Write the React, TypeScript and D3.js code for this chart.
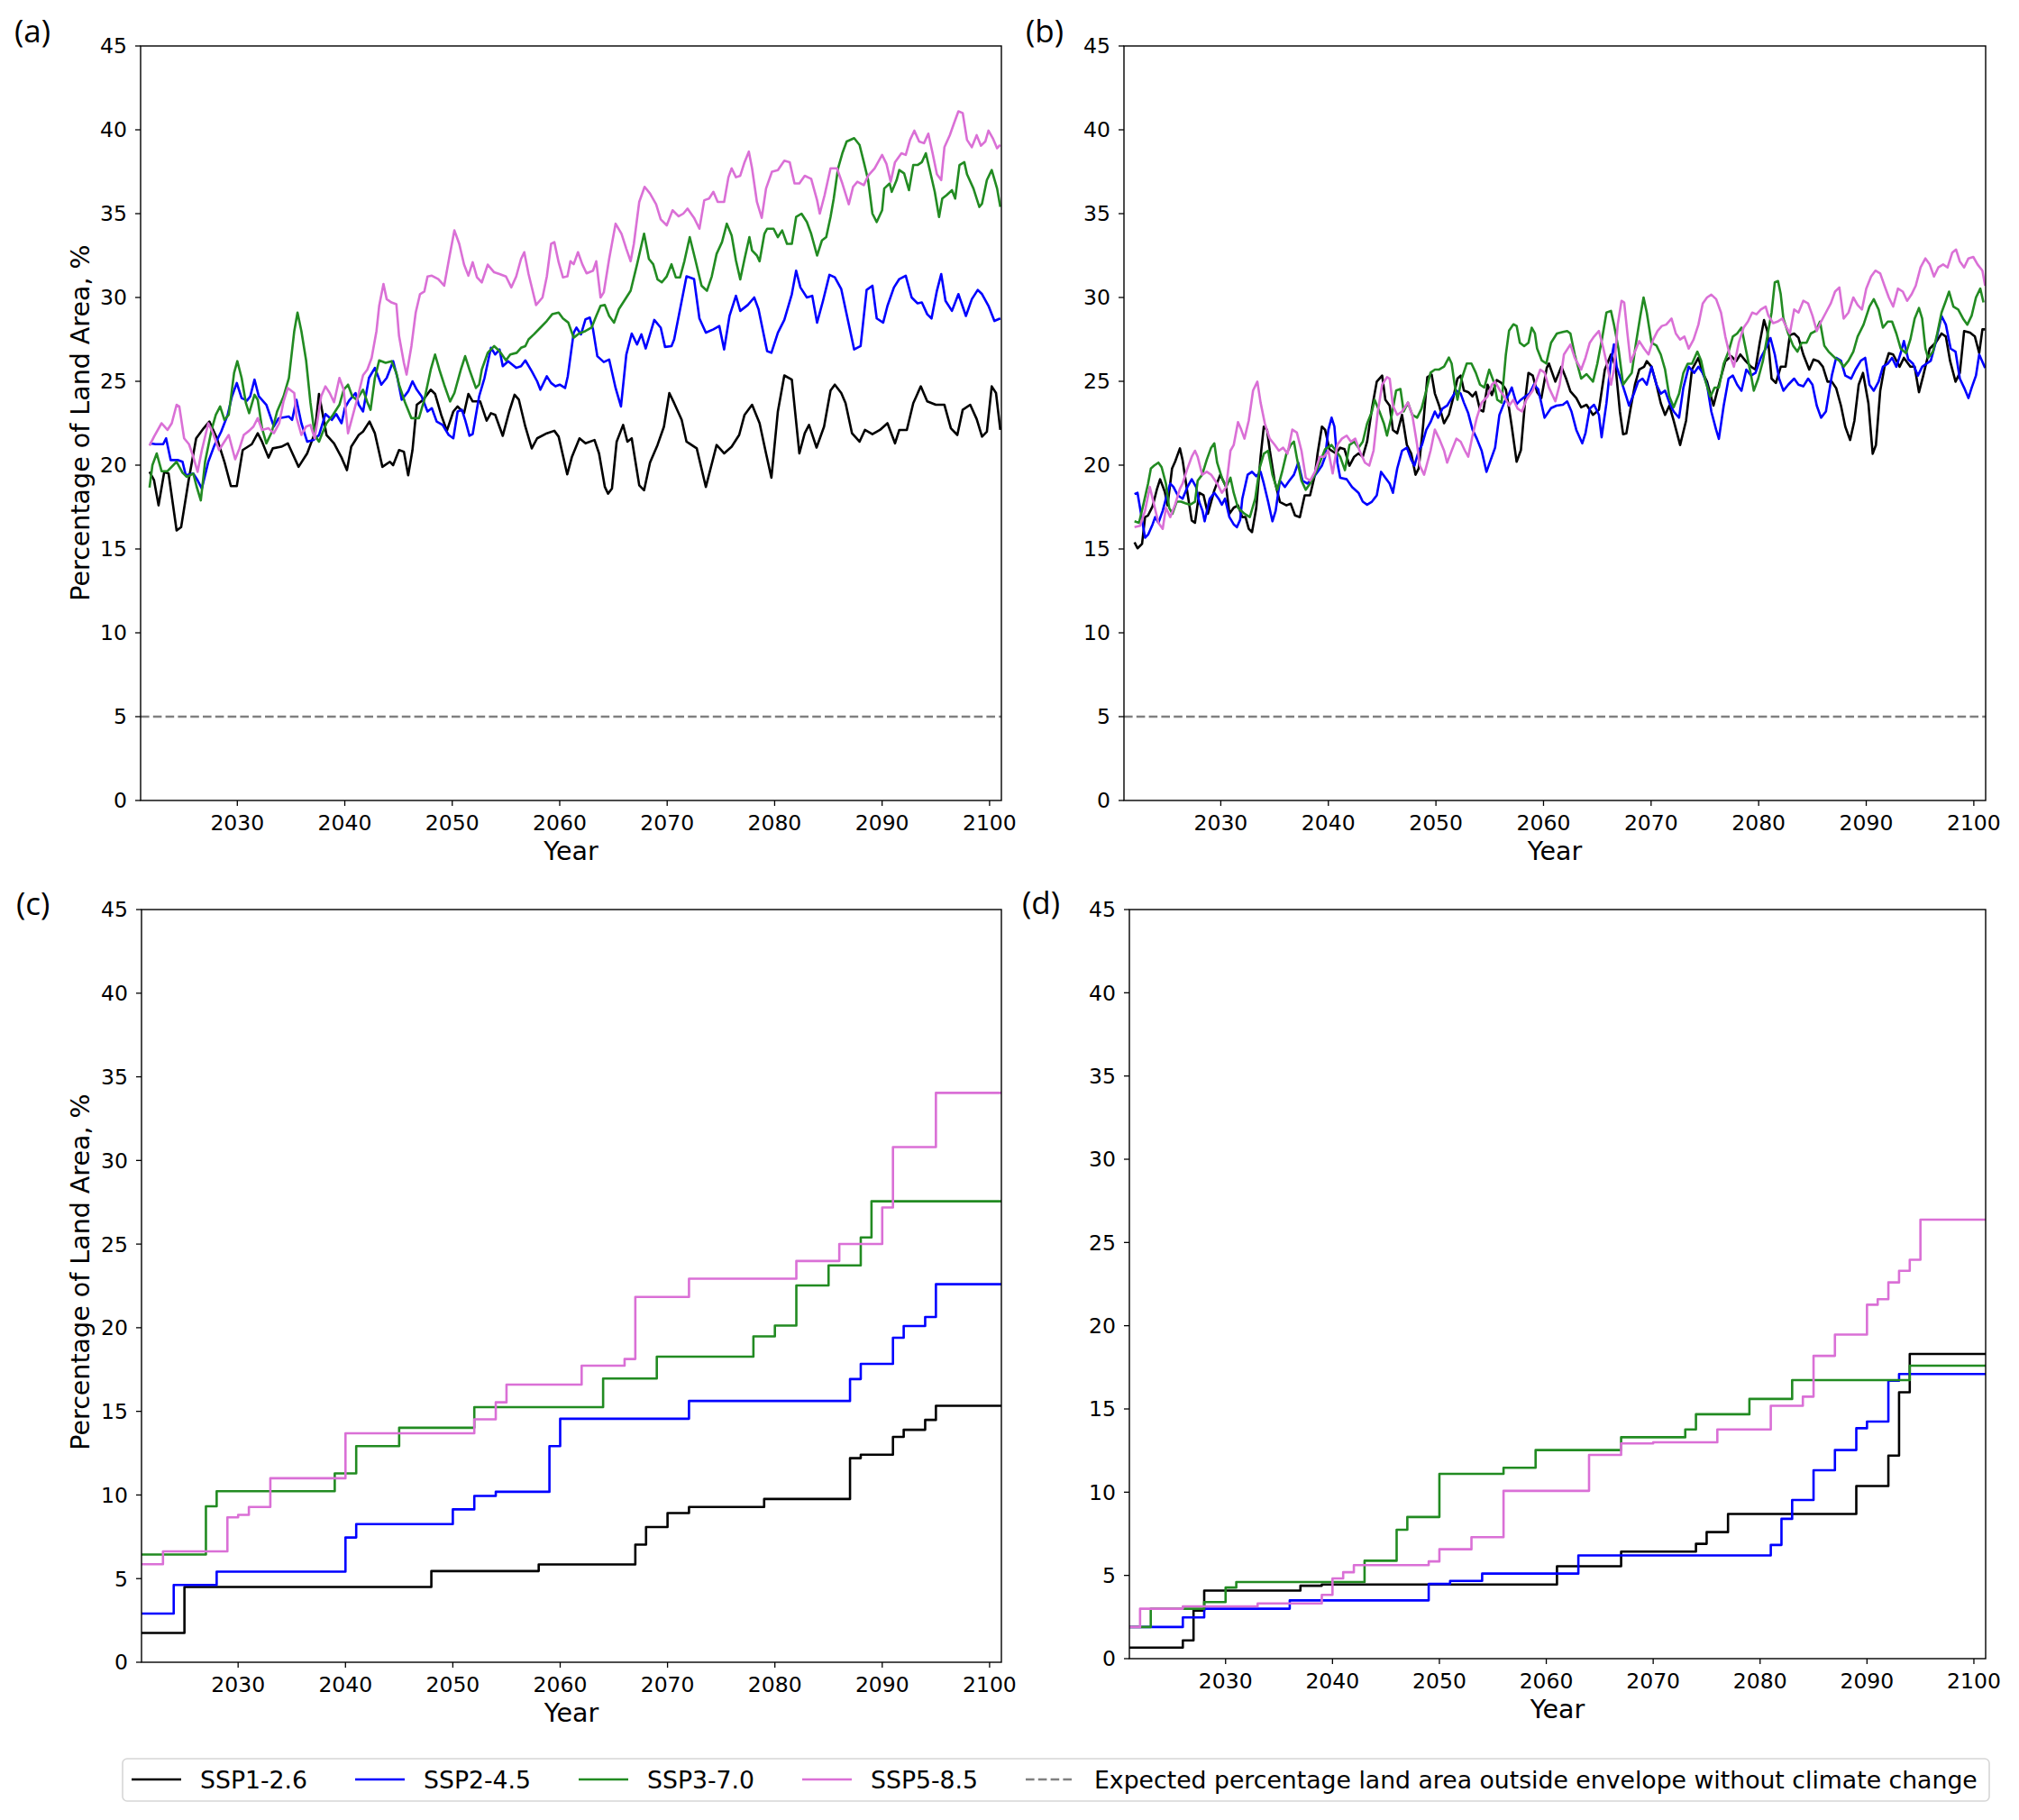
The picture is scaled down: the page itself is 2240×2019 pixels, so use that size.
import * as d3 from 'd3';

type Pt = [number, number];

// shared axis setup
const YEAR_DOMAIN: [number, number] = [2021, 2101.1];
const PCT_DOMAIN: [number, number] = [0, 45];
const YEAR_TICKS = [2030, 2040, 2050, 2060, 2070, 2080, 2090, 2100];
const PCT_TICKS = [0, 5, 10, 15, 20, 25, 30, 35, 40, 45];
const SCENARIOS = ['SSP1-2.6', 'SSP2-4.5', 'SSP3-7.0', 'SSP5-8.5'];
const COLORS = ['#000000', '#0000ff', '#228b22', '#da70d6'];
const BASELINE_PCT = 5;
const BASELINE_LABEL = 'Expected percentage land area outside envelope without climate change';

// (a) running values
const A_SSP126: Pt[] = [
  [2021.83, 19.6], [2022.25, 19.1], [2022.67, 17.6], [2023.2, 19.6], [2023.6, 19.5], [2024.35, 16.1],
  [2024.77, 16.3], [2025.47, 19.1], [2026.17, 21.6], [2026.87, 22.2], [2027.4, 22.6], [2028.1, 21.6],
  [2028.8, 20.2], [2029.4, 18.75], [2029.95, 18.75], [2030.5, 20.9], [2031.35, 21.25], [2031.9, 21.9],
  [2032.3, 21.4], [2032.9, 20.45], [2033.3, 21.0], [2034.1, 21.1], [2034.7, 21.3], [2035.7, 19.9],
  [2036.5, 20.7], [2037.2, 21.9], [2037.6, 24.25], [2037.9, 23.2], [2038.3, 21.8], [2039.0, 21.3],
  [2039.7, 20.45], [2040.2, 19.7], [2040.6, 21.1], [2041.3, 21.8], [2041.7, 22.0], [2042.3, 22.6],
  [2042.8, 21.9], [2043.5, 19.9], [2044.2, 20.2], [2044.5, 20.0], [2045.05, 20.9], [2045.5, 20.8],
  [2045.9, 19.4], [2046.3, 20.9], [2046.7, 23.6], [2047.3, 23.9], [2048.0, 24.5], [2048.4, 24.25],
  [2048.97, 23.0], [2049.5, 22.05], [2050.1, 23.2], [2050.5, 23.5], [2051.1, 23.1], [2051.5, 24.25],
  [2051.9, 23.8], [2052.6, 23.8], [2053.2, 22.65], [2053.6, 23.1], [2054.0, 23.0], [2054.7, 21.75],
  [2055.3, 23.2], [2055.8, 24.2], [2056.2, 23.9], [2056.8, 22.3], [2057.4, 21.0], [2057.9, 21.6],
  [2058.8, 21.9], [2059.5, 22.05], [2059.9, 21.7], [2060.7, 19.45], [2061.14, 20.5], [2061.84, 21.6],
  [2062.4, 21.3], [2063.24, 21.5], [2063.66, 20.7], [2064.2, 18.7], [2064.5, 18.3], [2064.86, 18.6],
  [2065.3, 21.4], [2065.9, 22.4], [2066.3, 21.4], [2066.7, 21.6], [2067.4, 18.8], [2067.85, 18.5],
  [2068.4, 20.15], [2069.1, 21.2], [2069.7, 22.3], [2070.2, 24.3], [2070.65, 23.7], [2071.35, 22.7],
  [2071.8, 21.4], [2072.75, 21.0], [2073.6, 18.7], [2074.6, 21.2], [2075.3, 20.7], [2076.0, 21.1],
  [2076.7, 21.8], [2077.2, 23.0], [2077.9, 23.6], [2078.6, 22.5], [2079.2, 20.7], [2079.7, 19.25],
  [2080.3, 23.2], [2080.9, 25.35], [2081.6, 25.1], [2082.3, 20.7], [2082.8, 21.9], [2083.2, 22.4],
  [2083.9, 21.05], [2084.6, 22.3], [2085.2, 24.45], [2085.6, 24.8], [2086.2, 24.3], [2086.6, 23.7],
  [2087.2, 21.9], [2087.9, 21.4], [2088.4, 22.1], [2089.1, 21.85], [2089.8, 22.1], [2090.5, 22.5],
  [2091.2, 21.3], [2091.6, 22.1], [2092.3, 22.1], [2092.9, 23.7], [2093.6, 24.7], [2094.2, 23.8],
  [2095.0, 23.6], [2095.8, 23.6], [2096.4, 22.2], [2097.0, 21.8], [2097.5, 23.3], [2098.2, 23.6],
  [2098.8, 22.75], [2099.3, 21.7], [2099.75, 22.0], [2100.2, 24.7], [2100.6, 24.3], [2101.0, 22.1],
];

const A_SSP245: Pt[] = [
  [2021.83, 21.3], [2022.4, 21.25], [2023.1, 21.25], [2023.37, 21.6], [2023.8, 20.3], [2024.5, 20.3],
  [2024.9, 20.2], [2025.2, 19.4], [2025.9, 19.5], [2026.3, 19.1], [2026.7, 18.6], [2027.3, 20.2],
  [2027.85, 21.15], [2028.5, 22.0], [2029.1, 23.0], [2029.5, 24.1], [2029.95, 24.9], [2030.4, 24.0],
  [2030.9, 23.85], [2031.2, 24.1], [2031.6, 25.1], [2032.0, 24.1], [2032.7, 23.6], [2033.4, 22.3],
  [2033.85, 22.8], [2034.8, 22.9], [2035.1, 22.7], [2035.5, 23.9], [2035.96, 22.5], [2036.5, 21.4],
  [2037.1, 21.5], [2037.6, 21.8], [2038.2, 23.05], [2038.8, 22.7], [2039.2, 23.05], [2039.7, 22.5],
  [2040.0, 23.4], [2040.4, 23.85], [2041.0, 24.3], [2041.3, 23.6], [2041.7, 23.2], [2042.25, 25.2],
  [2042.8, 25.8], [2043.4, 24.8], [2043.9, 25.2], [2044.5, 26.2], [2044.9, 25.2], [2045.3, 23.9],
  [2045.9, 24.4], [2046.3, 25.0], [2046.7, 24.5], [2047.15, 24.1], [2047.7, 23.2], [2048.1, 23.4],
  [2048.55, 22.6], [2049.1, 22.4], [2049.67, 21.8], [2050.1, 21.6], [2050.5, 23.2], [2050.9, 23.3],
  [2051.2, 22.7], [2051.6, 21.75], [2051.9, 21.85], [2052.5, 24.1], [2053.0, 25.2], [2053.6, 27.0],
  [2054.0, 26.6], [2054.4, 26.9], [2054.7, 25.9], [2055.2, 26.2], [2055.95, 25.8], [2056.4, 25.9],
  [2056.8, 26.25], [2057.4, 25.6], [2057.9, 25.0], [2058.2, 24.5], [2058.8, 25.3], [2059.2, 24.9],
  [2059.6, 24.7], [2060.0, 24.8], [2060.5, 24.6], [2060.75, 25.3], [2061.3, 27.9], [2061.56, 28.2],
  [2061.98, 27.8], [2062.4, 28.7], [2062.8, 28.8], [2063.1, 28.1], [2063.5, 26.5], [2064.1, 26.15],
  [2064.6, 26.3], [2065.2, 24.6], [2065.7, 23.5], [2066.2, 26.6], [2066.7, 27.85], [2067.2, 27.2],
  [2067.6, 27.8], [2068.0, 26.96], [2068.4, 27.8], [2068.8, 28.66], [2069.4, 28.2], [2069.8, 27.05],
  [2070.4, 27.1], [2070.65, 27.5], [2071.2, 29.3], [2071.8, 31.26], [2072.5, 31.1], [2073.0, 28.75],
  [2073.6, 27.9], [2074.3, 28.1], [2074.85, 28.3], [2075.3, 26.9], [2075.8, 28.9], [2076.4, 30.1],
  [2076.8, 29.2], [2077.5, 29.55], [2078.1, 30.0], [2078.5, 29.3], [2079.3, 26.8], [2079.7, 26.7],
  [2080.3, 27.9], [2080.9, 28.66], [2081.6, 30.2], [2082.0, 31.6], [2082.4, 30.6], [2083.0, 30.0],
  [2083.5, 30.1], [2083.95, 28.5], [2084.5, 29.8], [2085.1, 31.35], [2085.6, 31.2], [2086.2, 30.5],
  [2086.9, 28.4], [2087.4, 26.9], [2088.0, 27.1], [2088.56, 30.45], [2089.1, 30.7], [2089.5, 28.75],
  [2090.1, 28.5], [2090.5, 29.5], [2091.1, 30.6], [2091.6, 31.1], [2092.2, 31.3], [2092.75, 30.0],
  [2093.3, 29.65], [2093.7, 29.7], [2094.2, 29.0], [2094.6, 28.75], [2095.1, 30.4], [2095.5, 31.4],
  [2095.9, 29.8], [2096.5, 29.2], [2097.1, 30.2], [2097.8, 28.9], [2098.35, 29.9], [2098.9, 30.45],
  [2099.3, 30.2], [2099.9, 29.5], [2100.45, 28.6], [2101.0, 28.75],
];

const A_SSP370: Pt[] = [
  [2021.83, 18.66], [2022.1, 20.0], [2022.5, 20.7], [2022.95, 19.64], [2023.5, 19.64], [2024.35, 20.2],
  [2024.9, 19.55], [2025.3, 19.3], [2025.9, 19.5], [2026.2, 18.75], [2026.6, 17.9], [2027.0, 20.2],
  [2027.6, 22.1], [2028.0, 23.0], [2028.4, 23.5], [2028.8, 22.7], [2029.2, 23.0], [2029.7, 25.5],
  [2030.0, 26.2], [2030.4, 25.2], [2030.8, 23.7], [2031.1, 23.1], [2031.6, 24.2], [2031.9, 23.9],
  [2032.3, 22.2], [2032.7, 21.3], [2033.2, 21.96], [2033.7, 23.2], [2034.3, 24.1], [2034.8, 25.2],
  [2035.3, 28.0], [2035.6, 29.1], [2035.96, 28.0], [2036.4, 26.25], [2036.8, 23.75], [2037.2, 21.8],
  [2037.6, 21.4], [2037.9, 21.9], [2038.3, 22.5], [2038.9, 23.0], [2039.5, 23.6], [2039.9, 24.5],
  [2040.3, 24.8], [2040.7, 24.1], [2041.1, 23.9], [2041.7, 24.5], [2042.1, 23.75], [2042.4, 23.3],
  [2042.8, 25.2], [2043.2, 26.25], [2043.8, 26.1], [2044.35, 26.2], [2044.8, 25.5], [2045.05, 24.8],
  [2045.6, 23.75], [2046.2, 22.8], [2046.9, 22.8], [2047.4, 23.9], [2048.0, 25.7], [2048.4, 26.6],
  [2048.8, 25.7], [2049.25, 24.8], [2049.8, 23.8], [2050.2, 24.3], [2050.8, 25.7], [2051.2, 26.5],
  [2051.6, 25.7], [2052.2, 24.6], [2052.5, 24.8], [2052.75, 25.7], [2053.3, 26.7], [2053.9, 27.1],
  [2054.4, 26.8], [2055.0, 26.25], [2055.4, 26.6], [2056.0, 26.7], [2056.4, 27.0], [2056.8, 27.1],
  [2057.1, 27.5], [2057.6, 27.8], [2058.2, 28.2], [2058.8, 28.6], [2059.3, 29.0], [2059.9, 29.1],
  [2060.3, 28.75], [2060.8, 28.5], [2061.3, 27.6], [2061.8, 27.85], [2062.4, 28.0], [2062.96, 28.2],
  [2063.4, 28.9], [2063.8, 29.5], [2064.2, 29.55], [2064.6, 28.9], [2065.06, 28.5], [2065.5, 29.3],
  [2066.0, 29.8], [2066.6, 30.4], [2067.2, 31.98], [2067.85, 33.8], [2068.3, 32.3], [2068.7, 31.98],
  [2069.1, 31.08], [2069.5, 30.9], [2069.96, 31.26], [2070.4, 31.98], [2070.8, 31.2], [2071.2, 31.2],
  [2071.6, 32.16], [2072.1, 33.6], [2072.6, 32.3], [2073.2, 30.7], [2073.7, 30.4], [2074.15, 31.26],
  [2074.6, 32.6], [2075.1, 33.3], [2075.55, 34.4], [2076.0, 33.7], [2076.4, 32.2], [2076.8, 31.08],
  [2077.2, 32.3], [2077.65, 33.6], [2077.9, 32.8], [2078.35, 32.5], [2078.6, 32.16], [2079.05, 33.8],
  [2079.3, 34.1], [2079.9, 34.1], [2080.3, 33.6], [2080.7, 34.0], [2081.15, 33.2], [2081.6, 33.2],
  [2082.0, 34.8], [2082.5, 35.0], [2083.0, 34.5], [2083.4, 33.8], [2083.95, 32.5], [2084.4, 33.4],
  [2084.8, 33.6], [2085.2, 34.8], [2085.5, 35.9], [2085.9, 37.7], [2086.3, 38.6], [2086.7, 39.3],
  [2087.4, 39.5], [2087.9, 39.1], [2088.3, 38.07], [2088.7, 37.0], [2089.1, 35.0], [2089.5, 34.5],
  [2090.0, 35.2], [2090.2, 36.5], [2090.7, 36.8], [2090.9, 36.3], [2091.35, 37.0], [2091.6, 37.6],
  [2092.05, 37.4], [2092.5, 36.4], [2092.9, 37.9], [2093.3, 37.9], [2093.7, 38.07], [2094.07, 38.6],
  [2094.4, 37.7], [2094.9, 36.3], [2095.3, 34.8], [2095.6, 35.9], [2096.0, 36.1], [2096.5, 36.4],
  [2096.8, 35.9], [2097.2, 37.9], [2097.65, 38.07], [2097.9, 37.35], [2098.5, 36.5], [2099.05, 35.4],
  [2099.3, 35.6], [2099.75, 37.0], [2100.2, 37.6], [2100.7, 36.5], [2101.0, 35.4],
];

const A_SSP585: Pt[] = [
  [2021.83, 21.16], [2022.25, 21.7], [2022.95, 22.5], [2023.5, 22.1], [2023.9, 22.5], [2024.35, 23.6],
  [2024.6, 23.5], [2025.05, 21.6], [2025.5, 21.25], [2025.9, 20.5], [2026.3, 19.6], [2026.7, 20.9],
  [2027.3, 22.5], [2027.7, 21.96], [2028.3, 20.9], [2028.7, 21.3], [2029.2, 21.8], [2029.8, 20.35],
  [2030.2, 21.0], [2030.6, 21.8], [2031.1, 22.05], [2031.5, 22.3], [2031.9, 22.8], [2032.3, 22.1],
  [2032.9, 22.2], [2033.4, 21.9], [2033.9, 22.5], [2034.3, 23.8], [2034.7, 24.6], [2035.3, 24.3],
  [2035.5, 22.86], [2035.96, 21.8], [2036.4, 22.3], [2036.8, 22.4], [2037.2, 21.6], [2037.8, 24.1],
  [2038.2, 24.7], [2038.6, 24.3], [2039.0, 23.75], [2039.5, 25.2], [2039.9, 24.5], [2040.3, 21.9],
  [2040.7, 22.86], [2041.3, 24.3], [2041.7, 25.36], [2042.1, 25.7], [2042.5, 26.4], [2042.95, 28.0],
  [2043.2, 29.5], [2043.6, 30.8], [2043.9, 29.9], [2044.35, 29.7], [2044.8, 29.6], [2045.05, 27.7],
  [2045.5, 26.1], [2045.75, 25.4], [2046.2, 27.1], [2046.6, 29.1], [2047.0, 30.2], [2047.4, 30.35],
  [2047.7, 31.25], [2048.1, 31.3], [2048.7, 31.1], [2049.25, 30.7], [2049.7, 32.3], [2050.2, 34.0],
  [2050.65, 33.2], [2051.1, 31.96], [2051.5, 31.3], [2051.9, 32.1], [2052.3, 31.2], [2052.75, 30.9],
  [2053.3, 31.96], [2053.9, 31.5], [2054.4, 31.4], [2055.0, 31.25], [2055.5, 30.6], [2055.95, 31.25],
  [2056.4, 32.3], [2056.7, 32.7], [2057.1, 31.4], [2057.5, 30.35], [2057.8, 29.55], [2058.4, 30.0],
  [2058.8, 31.25], [2059.2, 33.2], [2059.5, 33.3], [2059.9, 32.1], [2060.3, 31.2], [2060.72, 31.26],
  [2061.0, 32.16], [2061.3, 31.98], [2061.7, 32.7], [2062.1, 31.98], [2062.5, 31.44], [2063.1, 31.6],
  [2063.4, 32.16], [2063.8, 30.0], [2064.1, 30.3], [2064.6, 32.3], [2065.2, 34.4], [2065.75, 33.8],
  [2066.2, 32.9], [2066.6, 32.16], [2066.9, 33.2], [2067.4, 35.7], [2067.9, 36.6], [2068.4, 36.2],
  [2068.97, 35.56], [2069.4, 34.66], [2069.96, 34.3], [2070.5, 35.2], [2071.07, 34.84], [2071.5, 35.0],
  [2071.9, 35.3], [2072.5, 34.75], [2073.0, 34.1], [2073.45, 35.8], [2073.9, 35.9], [2074.3, 36.3],
  [2074.7, 35.7], [2075.3, 35.7], [2075.7, 37.17], [2076.0, 37.7], [2076.4, 37.17], [2076.8, 37.26],
  [2077.2, 38.07], [2077.6, 38.7], [2077.9, 37.7], [2078.35, 35.7], [2078.8, 34.75], [2079.2, 36.5],
  [2079.75, 37.5], [2080.3, 37.6], [2080.9, 38.16], [2081.4, 38.07], [2081.85, 36.8], [2082.3, 36.8],
  [2082.8, 37.26], [2083.4, 37.08], [2083.95, 35.8], [2084.2, 35.0], [2084.65, 36.1], [2085.2, 37.7],
  [2085.8, 37.7], [2086.3, 36.8], [2086.9, 35.56], [2087.3, 36.6], [2087.7, 36.9], [2088.3, 36.7],
  [2088.7, 37.26], [2089.3, 37.7], [2090.0, 38.5], [2090.4, 37.98], [2090.8, 36.9], [2091.2, 38.07],
  [2091.8, 38.6], [2092.2, 38.5], [2092.6, 39.4], [2093.0, 39.95], [2093.45, 39.3], [2093.9, 39.2],
  [2094.3, 39.77], [2094.7, 38.6], [2095.1, 37.35], [2095.5, 37.0], [2095.8, 38.96], [2096.3, 39.68],
  [2096.7, 40.4], [2097.1, 41.1], [2097.5, 41.0], [2097.9, 39.4], [2098.35, 38.96], [2098.8, 39.68],
  [2099.2, 39.05], [2099.6, 39.3], [2099.9, 39.95], [2100.3, 39.5], [2100.7, 38.9], [2101.0, 39.1],
];

// (b) running values
const B_SSP126: Pt[] = [
  [2021.98, 15.4], [2022.26, 15.04], [2022.68, 15.3], [2022.96, 16.9], [2023.24, 17.0], [2023.66, 17.55],
  [2024.08, 18.6], [2024.36, 19.16], [2024.8, 18.4], [2025.05, 17.6], [2025.47, 19.8], [2025.75, 20.2],
  [2026.2, 21.0], [2026.45, 20.3], [2026.9, 18.35], [2027.3, 16.7], [2027.6, 16.56], [2028.0, 18.35],
  [2028.4, 18.2], [2028.8, 17.1], [2029.4, 18.5], [2029.95, 19.43], [2030.5, 18.7], [2030.8, 17.1],
  [2031.2, 17.46], [2031.6, 17.6], [2032.0, 16.9], [2032.3, 16.9], [2032.6, 16.2], [2032.9, 16.0],
  [2033.3, 17.46], [2033.7, 20.5], [2034.0, 22.3], [2034.3, 22.1], [2034.55, 20.9], [2035.0, 19.07],
  [2035.5, 17.8], [2036.1, 17.6], [2036.5, 17.7], [2036.9, 17.0], [2037.35, 16.9], [2037.8, 18.2],
  [2038.3, 18.2], [2038.75, 19.43], [2039.0, 20.7], [2039.4, 22.3], [2039.7, 22.1], [2040.1, 20.95],
  [2040.7, 20.7], [2041.1, 21.04], [2041.5, 20.95], [2041.96, 19.97], [2042.4, 20.5], [2042.8, 20.7],
  [2043.2, 20.5], [2043.6, 21.4], [2044.05, 23.37], [2044.5, 24.98], [2045.0, 25.34], [2045.3, 23.9],
  [2045.7, 23.55], [2046.0, 22.1], [2046.4, 21.9], [2046.85, 23.0], [2047.3, 21.2], [2047.7, 20.7],
  [2048.1, 19.43], [2048.4, 19.8], [2048.8, 22.3], [2049.2, 25.25], [2049.6, 25.4], [2049.9, 24.27],
  [2050.3, 23.55], [2050.75, 22.5], [2051.2, 23.0], [2051.6, 24.0], [2052.0, 25.16], [2052.3, 25.34],
  [2052.6, 24.45], [2053.0, 24.36], [2053.4, 24.1], [2053.7, 24.36], [2054.1, 23.3], [2054.4, 23.2],
  [2054.8, 24.8], [2055.2, 24.18], [2055.65, 25.07], [2056.1, 24.9], [2056.5, 24.5], [2056.8, 23.37],
  [2057.05, 22.3], [2057.5, 20.2], [2057.9, 20.9], [2058.3, 23.9], [2058.6, 25.5], [2059.0, 25.34],
  [2059.4, 24.36], [2059.8, 24.0], [2060.3, 25.8], [2060.5, 26.06], [2061.1, 24.98], [2061.66, 25.87],
  [2062.1, 25.16], [2062.5, 24.4], [2063.05, 24.0], [2063.5, 23.45], [2064.0, 23.6], [2064.6, 23.0],
  [2065.15, 23.3], [2065.7, 25.7], [2066.27, 26.6], [2066.7, 25.87], [2067.1, 23.2], [2067.4, 21.84],
  [2067.7, 21.9], [2068.1, 23.4], [2068.5, 24.8], [2068.9, 25.7], [2069.35, 25.87], [2069.6, 26.2],
  [2070.04, 25.87], [2070.5, 24.8], [2070.9, 23.7], [2071.3, 23.0], [2071.7, 23.55], [2072.1, 22.65],
  [2072.7, 21.2], [2073.25, 22.65], [2073.8, 25.7], [2074.4, 26.4], [2074.8, 25.5], [2075.2, 24.98],
  [2075.8, 23.55], [2076.3, 24.8], [2076.9, 26.2], [2077.45, 26.5], [2077.9, 26.2], [2078.3, 26.6],
  [2078.8, 26.2], [2079.3, 25.87], [2079.7, 25.7], [2080.1, 27.3], [2080.5, 28.65], [2080.8, 28.0],
  [2081.2, 25.16], [2081.6, 24.9], [2082.05, 25.87], [2082.5, 25.87], [2082.9, 27.76], [2083.3, 27.85],
  [2083.7, 27.6], [2084.15, 26.6], [2084.7, 25.7], [2085.1, 26.3], [2085.55, 26.2], [2085.97, 25.87],
  [2086.4, 24.98], [2086.8, 24.98], [2087.2, 24.6], [2087.65, 23.55], [2088.05, 22.3], [2088.5, 21.5],
  [2088.9, 22.65], [2089.3, 24.8], [2089.7, 25.5], [2090.2, 23.7], [2090.6, 20.68], [2090.9, 21.2],
  [2091.3, 24.44], [2091.7, 25.87], [2092.1, 26.68], [2092.5, 26.6], [2093.1, 25.87], [2093.5, 26.4],
  [2094.1, 25.87], [2094.5, 25.87], [2094.9, 24.35], [2095.3, 25.34], [2095.9, 26.95], [2096.45, 27.3],
  [2097.0, 27.85], [2097.4, 27.67], [2097.8, 26.2], [2098.3, 24.98], [2098.7, 25.5], [2099.1, 28.0],
  [2099.65, 27.9], [2100.1, 27.67], [2100.5, 26.68], [2100.8, 28.1], [2101.05, 28.1],
];

const B_SSP245: Pt[] = [
  [2021.98, 18.27], [2022.26, 18.35], [2022.68, 16.74], [2022.96, 15.67], [2023.24, 15.85], [2023.66, 16.47],
  [2023.9, 16.9], [2024.2, 16.56], [2024.6, 17.28], [2025.05, 18.35], [2025.3, 18.9], [2025.6, 18.7],
  [2026.0, 18.2], [2026.45, 18.0], [2026.9, 18.7], [2027.3, 19.16], [2027.7, 18.7], [2028.0, 17.8],
  [2028.3, 17.28], [2028.5, 16.65], [2028.97, 18.0], [2029.4, 18.35], [2029.8, 18.0], [2030.1, 17.64],
  [2030.4, 18.0], [2030.8, 16.9], [2031.2, 16.47], [2031.5, 16.3], [2031.8, 16.74], [2032.0, 18.0],
  [2032.5, 19.43], [2032.9, 19.6], [2033.3, 19.34], [2033.7, 19.6], [2034.0, 18.9], [2034.4, 17.82],
  [2034.8, 16.65], [2035.1, 17.28], [2035.5, 19.07], [2035.96, 18.7], [2036.37, 19.07], [2036.8, 19.43],
  [2037.2, 20.15], [2037.6, 19.07], [2038.05, 18.9], [2038.6, 19.25], [2039.0, 19.6], [2039.4, 19.97],
  [2039.7, 20.5], [2040.0, 22.1], [2040.3, 22.83], [2040.56, 22.3], [2040.84, 20.15], [2041.1, 19.25],
  [2041.7, 19.16], [2042.2, 18.7], [2042.8, 18.35], [2043.2, 17.82], [2043.6, 17.64], [2044.05, 17.82],
  [2044.5, 18.2], [2044.9, 19.6], [2045.3, 19.25], [2045.7, 18.9], [2046.0, 18.35], [2046.4, 19.8],
  [2046.85, 20.86], [2047.3, 21.04], [2047.7, 20.33], [2048.0, 19.97], [2048.4, 20.86], [2048.7, 21.2],
  [2049.1, 22.1], [2049.5, 22.57], [2049.9, 23.2], [2050.2, 22.83], [2050.6, 23.37], [2051.04, 23.55],
  [2051.46, 24.0], [2051.9, 24.45], [2052.3, 24.27], [2052.6, 23.73], [2053.0, 23.1], [2053.4, 22.12],
  [2053.8, 21.58], [2054.25, 20.86], [2054.7, 19.6], [2055.1, 20.33], [2055.5, 21.04], [2055.9, 23.0],
  [2056.35, 23.73], [2056.8, 24.27], [2057.05, 24.63], [2057.5, 23.64], [2057.9, 23.9], [2058.3, 24.1],
  [2058.7, 24.27], [2059.1, 24.8], [2059.5, 24.54], [2060.1, 22.83], [2060.7, 23.4], [2061.2, 23.55],
  [2061.8, 23.6], [2062.2, 23.8], [2062.6, 23.2], [2063.05, 22.1], [2063.6, 21.3], [2063.9, 21.9],
  [2064.3, 23.37], [2064.7, 23.6], [2065.15, 23.0], [2065.4, 21.66], [2065.85, 23.7], [2066.27, 26.23],
  [2066.55, 27.2], [2066.8, 25.87], [2067.25, 24.98], [2067.7, 24.08], [2067.95, 23.55], [2068.4, 24.26],
  [2068.8, 24.98], [2069.2, 25.16], [2069.6, 24.8], [2070.04, 25.87], [2070.5, 24.8], [2070.9, 24.26],
  [2071.3, 24.44], [2071.7, 23.73], [2072.1, 23.2], [2072.6, 22.83], [2073.0, 24.62], [2073.5, 25.87],
  [2074.0, 25.5], [2074.4, 25.87], [2074.8, 25.5], [2075.2, 24.8], [2075.6, 23.2], [2076.05, 22.1],
  [2076.3, 21.57], [2076.75, 23.55], [2077.2, 25.16], [2077.6, 25.34], [2078.0, 24.8], [2078.4, 24.44],
  [2078.85, 25.7], [2079.3, 25.34], [2079.7, 25.5], [2080.2, 26.4], [2080.65, 26.95], [2081.1, 27.58],
  [2081.5, 26.6], [2081.9, 25.16], [2082.3, 24.44], [2082.75, 24.8], [2083.3, 25.16], [2083.7, 24.8],
  [2084.15, 24.7], [2084.6, 25.16], [2085.0, 24.8], [2085.4, 23.55], [2085.8, 22.83], [2086.25, 23.2],
  [2086.8, 25.34], [2087.2, 26.4], [2087.65, 26.23], [2088.05, 25.34], [2088.6, 25.16], [2089.0, 25.7],
  [2089.5, 26.23], [2089.9, 26.4], [2090.3, 24.8], [2090.7, 24.44], [2091.15, 24.98], [2091.55, 25.87],
  [2092.0, 26.05], [2092.4, 26.4], [2092.8, 25.87], [2093.2, 26.68], [2093.5, 27.4], [2093.9, 26.32],
  [2094.35, 26.05], [2094.8, 25.34], [2095.2, 25.87], [2095.6, 26.05], [2096.0, 26.23], [2096.45, 27.3],
  [2097.0, 28.9], [2097.4, 28.38], [2097.85, 26.95], [2098.3, 26.77], [2098.7, 25.16], [2099.1, 24.62],
  [2099.5, 24.0], [2099.8, 24.62], [2100.2, 25.34], [2100.5, 26.6], [2101.05, 25.8],
];

const B_SSP370: Pt[] = [
  [2021.98, 16.65], [2022.4, 16.56], [2022.8, 17.64], [2023.24, 18.9], [2023.5, 19.8], [2023.8, 19.97],
  [2024.2, 20.15], [2024.5, 19.88], [2024.9, 18.9], [2025.2, 17.46], [2025.5, 17.1], [2025.9, 17.82],
  [2026.3, 17.82], [2026.7, 17.73], [2027.15, 17.64], [2027.6, 17.82], [2027.85, 19.07], [2028.27, 19.43],
  [2028.7, 20.33], [2029.1, 21.04], [2029.4, 21.3], [2029.66, 20.15], [2030.1, 19.25], [2030.5, 18.7],
  [2030.9, 19.25], [2031.2, 18.35], [2031.6, 17.46], [2032.2, 17.1], [2032.7, 16.9], [2033.2, 18.0],
  [2033.6, 19.8], [2034.0, 20.68], [2034.4, 20.86], [2034.8, 19.43], [2035.25, 18.53], [2035.7, 19.6],
  [2036.1, 20.68], [2036.5, 21.2], [2036.8, 21.4], [2037.1, 20.33], [2037.5, 19.07], [2037.9, 18.53],
  [2038.3, 18.9], [2038.75, 19.43], [2039.2, 20.15], [2039.7, 20.95], [2040.3, 21.2], [2040.7, 20.86],
  [2041.1, 20.5], [2041.54, 19.7], [2041.96, 21.2], [2042.4, 21.4], [2042.8, 21.04], [2043.2, 21.4],
  [2043.6, 22.47], [2044.05, 23.2], [2044.3, 23.9], [2044.75, 23.2], [2045.17, 22.47], [2045.45, 21.76],
  [2045.9, 23.0], [2046.3, 24.45], [2046.7, 24.54], [2047.0, 23.2], [2047.4, 23.73], [2047.8, 23.0],
  [2048.25, 22.83], [2048.66, 23.37], [2049.1, 24.45], [2049.5, 25.52], [2049.9, 25.7], [2050.3, 25.7],
  [2050.76, 25.88], [2051.2, 26.42], [2051.46, 26.06], [2051.74, 24.8], [2052.0, 23.9], [2052.4, 25.16],
  [2052.86, 26.06], [2053.3, 26.06], [2053.7, 25.52], [2054.1, 24.8], [2054.5, 24.63], [2054.95, 25.7],
  [2055.37, 24.98], [2055.7, 23.9], [2056.1, 23.73], [2056.5, 26.6], [2056.8, 28.03], [2057.2, 28.4],
  [2057.5, 28.3], [2057.8, 27.3], [2058.2, 27.1], [2058.6, 27.3], [2058.9, 28.2], [2059.2, 27.85],
  [2059.4, 26.96], [2059.84, 26.24], [2060.26, 26.06], [2060.7, 27.3], [2061.24, 27.85], [2061.8, 27.94],
  [2062.2, 28.0], [2062.5, 27.85], [2062.9, 26.6], [2063.5, 25.16], [2064.0, 25.43], [2064.6, 24.98],
  [2065.0, 26.05], [2065.43, 27.5], [2065.85, 29.1], [2066.27, 29.2], [2066.55, 28.38], [2066.97, 26.95],
  [2067.4, 24.8], [2067.8, 25.16], [2068.2, 25.5], [2068.6, 27.3], [2069.0, 28.9], [2069.3, 30.0],
  [2069.6, 29.1], [2070.04, 27.3], [2070.5, 27.13], [2070.9, 26.6], [2071.3, 25.7], [2071.7, 24.08],
  [2072.1, 23.45], [2072.6, 24.26], [2073.0, 25.5], [2073.4, 26.05], [2073.8, 26.05], [2074.3, 26.77],
  [2074.65, 26.23], [2075.07, 24.98], [2075.5, 24.08], [2075.9, 24.62], [2076.3, 24.62], [2076.75, 26.05],
  [2077.2, 26.77], [2077.6, 27.67], [2078.0, 27.85], [2078.4, 28.2], [2078.85, 26.77], [2079.3, 25.34],
  [2079.55, 24.44], [2079.96, 25.16], [2080.4, 26.23], [2080.8, 27.67], [2081.2, 29.1], [2081.5, 30.9],
  [2081.8, 30.98], [2082.05, 30.2], [2082.3, 28.74], [2082.75, 27.85], [2083.2, 27.13], [2083.6, 26.77],
  [2084.0, 27.3], [2084.45, 27.3], [2084.85, 27.85], [2085.3, 28.0], [2085.7, 28.56], [2086.1, 27.13],
  [2086.5, 26.77], [2087.1, 26.4], [2087.5, 26.23], [2087.9, 25.87], [2088.35, 26.23], [2088.8, 26.77],
  [2089.2, 27.67], [2089.75, 28.38], [2090.3, 29.46], [2090.7, 29.9], [2091.15, 29.28], [2091.55, 28.2],
  [2092.0, 28.56], [2092.4, 28.56], [2092.8, 27.85], [2093.2, 26.95], [2093.7, 26.68], [2094.1, 27.49],
  [2094.5, 28.74], [2094.9, 29.37], [2095.2, 28.74], [2095.5, 26.95], [2095.75, 26.4], [2096.2, 26.77],
  [2096.6, 27.85], [2097.0, 29.1], [2097.4, 29.8], [2097.7, 30.35], [2098.1, 29.46], [2098.55, 29.28],
  [2099.0, 28.74], [2099.4, 28.38], [2099.8, 28.92], [2100.2, 30.0], [2100.6, 30.53], [2100.9, 29.7],
];

const B_SSP585: Pt[] = [
  [2021.98, 16.3], [2022.5, 16.38], [2022.96, 17.28], [2023.4, 18.7], [2023.8, 17.64], [2024.2, 16.56],
  [2024.6, 16.2], [2024.9, 17.46], [2025.3, 16.9], [2025.75, 17.64], [2026.2, 18.6], [2026.45, 18.9],
  [2026.9, 19.8], [2027.3, 20.5], [2027.6, 20.86], [2027.85, 20.5], [2028.27, 19.43], [2028.7, 19.6],
  [2029.1, 19.43], [2029.66, 18.9], [2030.1, 18.35], [2030.5, 18.7], [2030.9, 20.86], [2031.2, 21.2],
  [2031.6, 22.57], [2031.9, 22.12], [2032.2, 21.58], [2032.6, 22.66], [2033.0, 24.45], [2033.4, 24.98],
  [2033.7, 23.73], [2034.1, 22.47], [2034.55, 21.58], [2035.0, 21.22], [2035.4, 20.86], [2035.8, 21.04],
  [2036.2, 20.68], [2036.65, 22.12], [2037.07, 21.94], [2037.5, 20.86], [2037.9, 19.25], [2038.3, 19.07],
  [2038.75, 19.6], [2039.2, 20.5], [2039.6, 20.5], [2040.0, 20.86], [2040.4, 19.5], [2040.84, 21.22],
  [2041.26, 21.58], [2041.7, 21.76], [2042.1, 21.4], [2042.5, 21.58], [2042.9, 20.86], [2043.4, 20.15],
  [2043.8, 19.97], [2044.2, 20.86], [2044.6, 23.2], [2045.0, 24.8], [2045.45, 25.25], [2045.7, 25.16],
  [2046.0, 23.55], [2046.4, 23.0], [2046.85, 23.2], [2047.4, 23.73], [2047.8, 23.0], [2048.25, 21.22],
  [2048.5, 19.97], [2048.9, 19.43], [2049.5, 20.86], [2049.9, 22.12], [2050.3, 21.58], [2050.76, 20.86],
  [2051.04, 20.15], [2051.46, 20.86], [2051.9, 21.58], [2052.3, 21.4], [2052.7, 20.86], [2053.0, 20.5],
  [2053.4, 21.76], [2053.8, 22.83], [2054.25, 23.73], [2054.8, 24.1], [2055.2, 24.8], [2055.5, 24.98],
  [2055.95, 24.45], [2056.35, 24.1], [2056.8, 23.55], [2057.2, 23.9], [2057.6, 23.37], [2058.0, 23.2],
  [2058.4, 23.9], [2059.0, 24.45], [2059.4, 25.16], [2059.7, 25.7], [2060.1, 25.52], [2060.5, 24.63],
  [2061.1, 23.81], [2061.5, 24.8], [2061.9, 26.6], [2062.5, 27.2], [2062.9, 26.4], [2063.5, 25.7],
  [2063.9, 26.4], [2064.3, 27.3], [2064.7, 27.67], [2065.15, 28.0], [2065.57, 26.95], [2066.0, 25.7],
  [2066.27, 24.8], [2066.55, 25.7], [2066.9, 28.38], [2067.25, 29.8], [2067.5, 29.7], [2067.8, 27.85],
  [2068.1, 26.14], [2068.5, 26.77], [2068.9, 27.4], [2069.35, 26.95], [2069.76, 26.6], [2070.2, 27.49],
  [2070.6, 28.0], [2071.0, 28.3], [2071.4, 28.38], [2071.9, 28.74], [2072.3, 27.85], [2072.7, 27.49],
  [2073.1, 27.67], [2073.5, 26.95], [2073.95, 27.49], [2074.4, 28.38], [2074.8, 29.64], [2075.2, 30.0],
  [2075.6, 30.17], [2076.05, 29.9], [2076.5, 29.1], [2076.9, 27.67], [2077.3, 26.6], [2077.7, 25.87],
  [2078.15, 27.3], [2078.6, 28.2], [2079.0, 28.56], [2079.4, 29.1], [2079.8, 29.0], [2080.2, 29.28],
  [2080.65, 29.46], [2080.9, 28.92], [2081.35, 28.47], [2081.75, 28.56], [2082.2, 28.74], [2082.6, 28.2],
  [2082.9, 27.85], [2083.3, 29.28], [2083.7, 29.1], [2084.15, 29.8], [2084.6, 29.64], [2085.0, 28.92],
  [2085.4, 28.0], [2085.8, 28.56], [2086.25, 29.1], [2086.7, 29.64], [2087.1, 30.35], [2087.5, 30.6],
  [2087.9, 28.74], [2088.35, 29.1], [2088.8, 30.0], [2089.2, 29.55], [2089.6, 29.28], [2090.0, 30.53],
  [2090.45, 31.25], [2090.85, 31.6], [2091.3, 31.43], [2091.7, 30.7], [2092.1, 30.0], [2092.5, 29.46],
  [2092.95, 30.53], [2093.4, 30.35], [2093.8, 29.8], [2094.2, 30.17], [2094.6, 30.7], [2095.05, 31.79],
  [2095.5, 32.33], [2095.9, 31.97], [2096.3, 31.25], [2096.7, 31.79], [2097.15, 31.97], [2097.56, 31.79],
  [2098.0, 32.68], [2098.35, 32.86], [2098.7, 32.15], [2099.1, 31.79], [2099.5, 32.33], [2099.95, 32.42],
  [2100.35, 31.97], [2100.8, 31.6], [2101.05, 30.7],
];

// (c) cumulative steps: [year the level starts, level]
const C_SSP126: Pt[] = [
  [2021, 1.75], [2025, 4.5], [2048, 5.45], [2058, 5.85], [2067, 7.03], [2068, 8.08], [2070, 8.92],
  [2072, 9.28], [2079, 9.76], [2087, 12.2], [2088, 12.41], [2091, 13.47], [2092, 13.9], [2094, 14.49],
  [2095, 15.33],
];
const C_SSP245: Pt[] = [
  [2021, 2.91], [2024, 4.62], [2028, 5.42], [2040, 7.46], [2041, 8.26], [2050, 9.14], [2052, 9.94],
  [2054, 10.19], [2059, 12.92], [2060, 14.56], [2072, 15.62], [2087, 16.93], [2088, 17.84], [2091, 19.4],
  [2092, 20.1], [2094, 20.64], [2095, 22.6],
];
const C_SSP370: Pt[] = [
  [2021, 6.44], [2027, 9.32], [2028, 10.23], [2039, 11.29], [2041, 12.92], [2045, 14.02], [2052, 15.25],
  [2064, 16.96], [2069, 18.27], [2078, 19.48], [2080, 20.13], [2082, 22.53], [2085, 23.73], [2088, 25.4],
  [2089, 27.56],
];
const C_SSP585: Pt[] = [
  [2021, 5.86], [2023, 6.63], [2029, 8.66], [2030, 8.81], [2031, 9.28], [2033, 11.0], [2040, 13.69],
  [2052, 14.52], [2054, 15.54], [2055, 16.6], [2062, 17.73], [2066, 18.13], [2067, 21.84], [2072, 22.93],
  [2082, 23.99], [2086, 25.01], [2090, 27.19], [2091, 30.8], [2095, 34.04],
];

// (d) cumulative steps
const D_SSP126: Pt[] = [
  [2021, 0.66], [2026, 1.1], [2027, 2.89], [2028, 4.09], [2037, 4.38], [2039, 4.45], [2061, 5.55],
  [2067, 6.43], [2074, 6.9], [2075, 7.6], [2077, 8.69], [2089, 10.37], [2092, 12.2], [2093, 16.0],
  [2094, 18.3],
];
const D_SSP245: Pt[] = [
  [2021, 1.9], [2026, 2.48], [2028, 3.0], [2036, 3.5], [2049, 4.49], [2051, 4.67], [2054, 5.11],
  [2063, 6.2], [2081, 6.83], [2082, 8.4], [2083, 9.53], [2085, 11.32], [2087, 12.53], [2089, 13.84],
  [2090, 14.24], [2092, 16.69], [2093, 17.1],
];
const D_SSP370: Pt[] = [
  [2021, 1.9], [2023, 3.0], [2028, 3.4], [2030, 4.27], [2031, 4.6], [2043, 5.88], [2046, 7.74],
  [2047, 8.51], [2050, 11.1], [2056, 11.47], [2059, 12.53], [2067, 13.3], [2073, 13.77], [2074, 14.68],
  [2079, 15.6], [2083, 16.73], [2094, 17.6],
];
const D_SSP585: Pt[] = [
  [2021, 1.9], [2022, 3.0], [2026, 3.14], [2033, 3.32], [2039, 3.83], [2040, 4.82], [2041, 5.19],
  [2042, 5.62], [2049, 5.84], [2050, 6.57], [2053, 7.3], [2056, 10.08], [2064, 12.24], [2067, 12.93],
  [2070, 13.0], [2076, 13.77], [2081, 15.19], [2084, 15.74], [2085, 18.19], [2087, 19.47], [2090, 21.26],
  [2091, 21.59], [2092, 22.6], [2093, 23.3], [2094, 23.96], [2095, 26.37],
];

const FONT = '"DejaVu Sans", sans-serif';
const TICK_SIZE = 23.5;
const LABEL_SIZE = 28.5;
const LEGEND_SIZE = 26.7;

interface PanelProps {
  box: { left: number; right: number; top: number; bottom: number };
  series: Pt[][];
  stepped?: boolean;
  showBaseline?: boolean;
  tag: string;
  tagPos: [number, number];
  yLabelY?: number;
}

const Panel = ({ box, series, stepped = false, showBaseline = false, tag, tagPos, yLabelY }: PanelProps) => {
  const x = d3.scaleLinear().domain(YEAR_DOMAIN).range([box.left, box.right]);
  const y = d3.scaleLinear().domain(PCT_DOMAIN).range([box.bottom, box.top]);

  const line = d3
    .line<Pt>()
    .x((d) => x(d[0]))
    .y((d) => y(d[1]))
    .curve(stepped ? d3.curveStepAfter : d3.curveLinear);

  // stepped series run flat to the right edge of the axes
  const prepared = series.map((s) => (stepped ? [...s, [YEAR_DOMAIN[1], s[s.length - 1][1]] as Pt] : s));
  const clipId = `clip-${tag.replace(/[()]/g, '')}`;

  return (
    <g>
      <defs>
        <clipPath id={clipId}>
          <rect x={box.left} y={box.top} width={box.right - box.left} height={box.bottom - box.top} />
        </clipPath>
      </defs>
      <g clipPath={`url(#${clipId})`}>
        {prepared.map((s, i) => (
          <path
            key={SCENARIOS[i]}
            d={line(s) || ''}
            fill="none"
            stroke={COLORS[i]}
            strokeWidth={2.6}
            strokeLinejoin="round"
          />
        ))}
        {showBaseline && (
          <line
            x1={box.left}
            x2={box.right}
            y1={y(BASELINE_PCT)}
            y2={y(BASELINE_PCT)}
            stroke="#808080"
            strokeWidth={2.6}
            strokeDasharray="9.6 4.2"
          />
        )}
      </g>
      <rect
        x={box.left}
        y={box.top}
        width={box.right - box.left}
        height={box.bottom - box.top}
        fill="none"
        stroke="#000"
        strokeWidth={1.4}
      />
      {YEAR_TICKS.map((t) => (
        <g key={t}>
          <line x1={x(t)} x2={x(t)} y1={box.bottom} y2={box.bottom + 6} stroke="#000" strokeWidth={1.3} />
          <text
            x={x(t)}
            y={box.bottom + 33}
            textAnchor="middle"
            fontFamily={FONT}
            fontSize={TICK_SIZE}
            fill="#000"
          >
            {t}
          </text>
        </g>
      ))}
      {PCT_TICKS.map((t) => (
        <g key={t}>
          <line x1={box.left - 6} x2={box.left} y1={y(t)} y2={y(t)} stroke="#000" strokeWidth={1.3} />
          <text
            x={box.left - 15}
            y={y(t)}
            dy="0.36em"
            textAnchor="end"
            fontFamily={FONT}
            fontSize={TICK_SIZE}
            fill="#000"
          >
            {t}
          </text>
        </g>
      ))}
      <text
        x={(box.left + box.right) / 2}
        y={box.bottom + 66}
        textAnchor="middle"
        fontFamily={FONT}
        fontSize={LABEL_SIZE}
        fill="#000"
      >
        Year
      </text>
      {yLabelY !== undefined && (
        <text
          transform={`translate(89,${yLabelY}) rotate(-90)`}
          dy="0.36em"
          textAnchor="middle"
          fontFamily={FONT}
          fontSize={LABEL_SIZE}
          fill="#000"
        >
          Percentage of Land Area, %
        </text>
      )}
      <text
        x={tagPos[0]}
        y={tagPos[1]}
        dy="0.35em"
        fontFamily='"Open Sans", sans-serif'
        fontSize={35}
        fill="#000"
      >
        {tag}
      </text>
    </g>
  );
};

const Legend = () => {
  const itemStep = 248;
  const startX = 146;
  const midY = 1974;
  const entries = [
    ...SCENARIOS.map((s, i) => ({ label: s, color: COLORS[i], dashed: false })),
    { label: BASELINE_LABEL, color: '#808080', dashed: true },
  ];
  return (
    <g>
      <rect x={136} y={1951} width={2071} height={47} rx={5} fill="#fff" stroke="#d6d6d6" strokeWidth={1.6} />
      {entries.map((e, i) => {
        const x0 = startX + i * itemStep;
        return (
          <g key={e.label}>
            <line
              x1={x0}
              x2={x0 + 55}
              y1={midY}
              y2={midY}
              stroke={e.color}
              strokeWidth={2.6}
              strokeDasharray={e.dashed ? '9.6 4.2' : undefined}
            />
            <text x={x0 + 76} y={midY} dy="0.36em" fontFamily={FONT} fontSize={LEGEND_SIZE} fill="#000">
              {e.label}
            </text>
          </g>
        );
      })}
    </g>
  );
};

export default function App() {
  return (
    <svg
      width={2240}
      height={2019}
      viewBox="0 0 2240 2019"
      style={{ position: 'absolute', left: 0, top: 0, background: '#fff' }}
    >
      <rect width={2240} height={2019} fill="#fff" />
      <Panel
        box={{ left: 156, right: 1111, top: 51, bottom: 888 }}
        series={[A_SSP126, A_SSP245, A_SSP370, A_SSP585]}
        showBaseline
        tag="(a)"
        tagPos={[16, 35]}
        yLabelY={469}
      />
      <Panel
        box={{ left: 1247, right: 2203, top: 51, bottom: 888 }}
        series={[B_SSP126, B_SSP245, B_SSP370, B_SSP585]}
        showBaseline
        tag="(b)"
        tagPos={[1138, 35]}
      />
      <Panel
        box={{ left: 157, right: 1111, top: 1009, bottom: 1844 }}
        series={[C_SSP126, C_SSP245, C_SSP370, C_SSP585]}
        stepped
        tag="(c)"
        tagPos={[18, 1003]}
        yLabelY={1411}
      />
      <Panel
        box={{ left: 1253, right: 2203, top: 1009, bottom: 1840 }}
        series={[D_SSP126, D_SSP245, D_SSP370, D_SSP585]}
        stepped
        tag="(d)"
        tagPos={[1134, 1002]}
      />
      <Legend />
    </svg>
  );
}
